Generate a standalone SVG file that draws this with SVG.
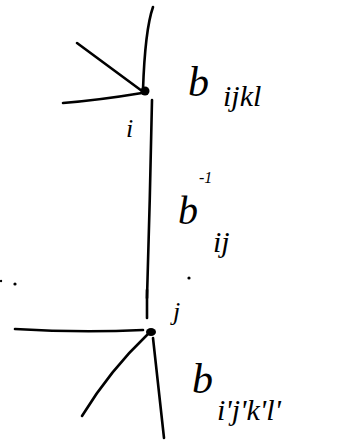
<svg xmlns="http://www.w3.org/2000/svg" width="357" height="444" viewBox="0 0 357 444">
<style>
.e{fill:none;stroke:#000;stroke-width:2.6;stroke-linecap:round;stroke-linejoin:round}
.t{font-family:"Liberation Serif","DejaVu Serif",serif;font-style:italic;fill:#000}
.n{fill:#000}
</style>
<rect width="357" height="444" fill="#fff"/>
<g id="connectors">
<path class="e" d="M153,7 Q145,30 143,90"/>
<path class="e" d="M77,43 L142,91"/>
<path class="e" d="M63,103 Q100,100 142,93"/>
<path class="e" d="M152,100 Q150,200 147,298"/>
<path class="e" d="M147,290 L147,318"/>
<path class="e" d="M15,329 Q80,333 143,330"/>
<path class="e" d="M82,416 Q110,370 148,334"/>
<path class="e" d="M153,338 L164,438"/>
</g>
<g id="node-i">
<circle class="n" cx="145" cy="91" r="4.5"/>
<text class="t" x="126" y="137" font-size="26">i</text>
<text class="t" x="188" y="96" font-size="42">b</text>
<text class="t" x="223" y="106" font-size="30">ijkl</text>
</g>
<g id="edge-label">
<text class="t" x="178" y="224" font-size="40">b</text>
<text class="t" x="199" y="183" font-size="16">-1</text>
<text class="t" x="213" y="252" font-size="30">ij</text>
</g>
<g id="node-j">
<ellipse class="n" cx="151" cy="332" rx="5" ry="4"/>
<text class="t" x="173" y="320" font-size="26">j</text>
<text class="t" x="192" y="393" font-size="42">b</text>
<text class="t" x="217" y="420" font-size="30">i'j'k'l'</text>
</g>
<g id="dots">
<circle class="n" cx="15" cy="284" r="1.6"/>
<circle class="n" cx="1" cy="281" r="1.2"/>
<circle class="n" cx="189" cy="278" r="1.6"/>
</g>
</svg>
